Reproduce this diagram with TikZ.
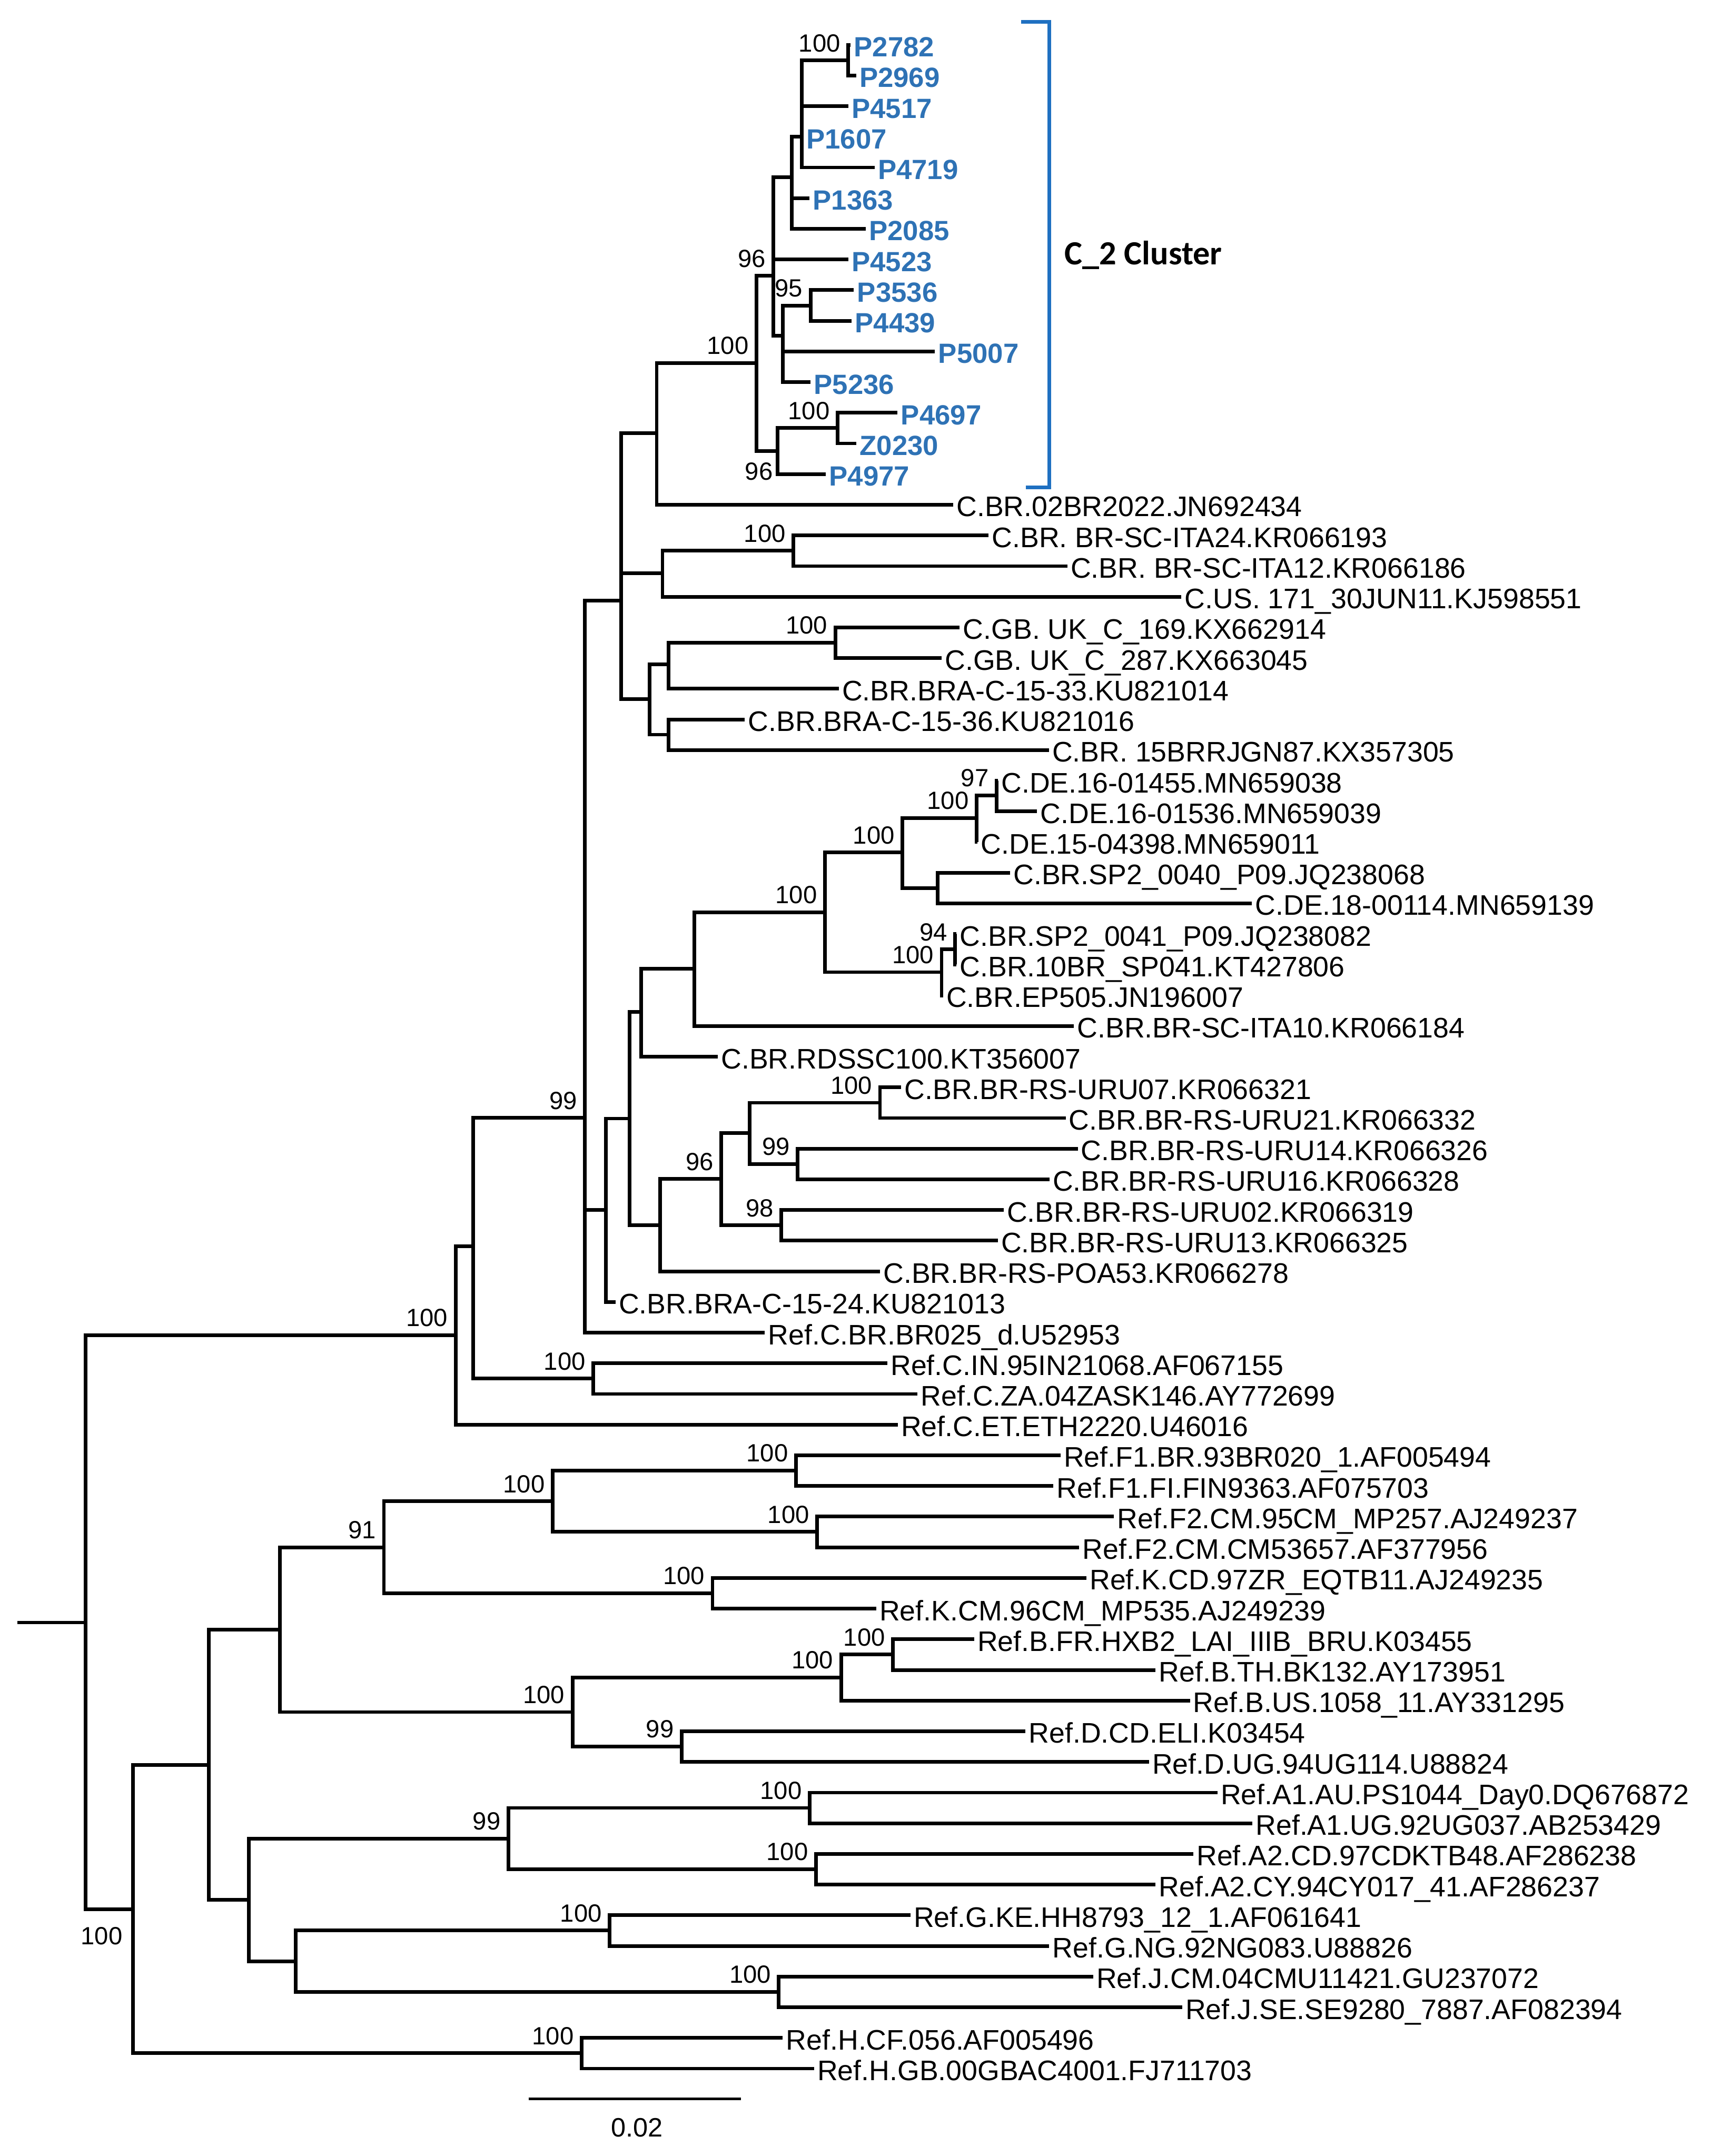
\documentclass[tikz,border=0pt]{standalone}
\usepackage{fontspec}
\setmainfont{Liberation Sans}
\newfontfamily\clusterfont{Carlito}
\definecolor{cluster_blue}{HTML}{2E72B5}
\definecolor{bracket_blue}{HTML}{1F70C1}

\begin{document}
\begin{tikzpicture}[x=0.02cm, y=-0.02cm,
  branch/.style={line width=1.5pt},
  leaf/.style={anchor=west, inner sep=1.2pt, text height=9.8pt, text depth=0pt, font=\fontsize{11.7}{14}\selectfont},
  pleaf/.style={leaf, text=cluster_blue, font=\fontsize{11.5}{14}\selectfont\bfseries},
  bsfont/.style={anchor=east, inner sep=0pt, font=\fontsize{10.3}{12}\selectfont},
  bs/.style={bsfont, xshift=-0.108cm, yshift=0.252cm}]
  \useasboundingbox (0,0) rectangle (1244,1568);

  % Internal nodes (C_2 cluster)
  \coordinate (nA) at (616.9,44);
  \coordinate (nB) at (583,99.5);
  \coordinate (nC) at (575.9,129);
  \coordinate (nD) at (562.5,200.6);
  \coordinate (nF) at (589.5,222.2);
  \coordinate (nE) at (569.3,244.3);
  \coordinate (nG) at (609.1,311.3);
  \coordinate (nH) at (565.5,328);
  \coordinate (nI) at (550.1,264);
  \coordinate (nJ) at (477.6,315);

  % Internal nodes (subtype C)
  \coordinate (nK) at (577.1,400.5);
  \coordinate (nL) at (481.8,417);
  \coordinate (nM) at (607.5,467.4);
  \coordinate (nN) at (486.1,483);
  \coordinate (nO) at (486.1,534.3);
  \coordinate (nP) at (472.4,508.5);
  \coordinate (nQ) at (451.6,436.8);
  \coordinate (nR) at (724.8,578.5);
  \coordinate (nS) at (710.2,595);
  \coordinate (nT) at (681.8,645.8);
  \coordinate (nU) at (656.3,620);
  \coordinate (nV) at (694.6,690.5);
  \coordinate (nW) at (684.8,707);
  \coordinate (nX) at (599.9,663.5);
  \coordinate (nY) at (504.9,704.5);
  \coordinate (nZ) at (466.4,736);
  \coordinate (nAA) at (640,802);
  \coordinate (nAB) at (580.2,846.5);
  \coordinate (nAC) at (545.1,824);
  \coordinate (nAD) at (568.2,891.2);
  \coordinate (nAE) at (524.6,857.5);
  \coordinate (nAF) at (480.1,891);
  \coordinate (nAG) at (457.8,813.5);
  \coordinate (nAH) at (440.8,880);
  \coordinate (nAI) at (425.4,813);
  \coordinate (nAJ) at (431.5,1002.6);
  \coordinate (nAK) at (344,906.5);
  \coordinate (nAL) at (331.4,971);

  % Internal nodes (reference subtypes)
  \coordinate (nBA) at (578.9,1069.5);
  \coordinate (nBB) at (594.3,1114.1);
  \coordinate (nBC) at (401.9,1091.8);
  \coordinate (nBD) at (518.2,1158.7);
  \coordinate (nBE) at (279.2,1125.3);
  \coordinate (nBF) at (649.5,1203.3);
  \coordinate (nBG) at (611.7,1220);
  \coordinate (nBH) at (495.8,1270.2);
  \coordinate (nBI) at (416.4,1245.1);
  \coordinate (nBJ) at (203.6,1185.2);
  \coordinate (nBK) at (588.8,1314.8);
  \coordinate (nBL) at (593.4,1359.4);
  \coordinate (nBM) at (369.8,1337.1);
  \coordinate (nBN) at (443.4,1404);
  \coordinate (nBO) at (566.4,1448.6);
  \coordinate (nBP) at (215.2,1426.3);
  \coordinate (nBQ) at (180.8,1381.7);
  \coordinate (nBR) at (151.7,1283.5);
  \coordinate (nBS) at (423,1493.2);
  \coordinate (nBT) at (96.8,1388.4);
  \coordinate (root) at (62.4,1180);
  \coordinate (stub) at (12.5,1180);

  % Branches between internal nodes
  \draw[branch] (stub) -- (root);
  \foreach \p/\c in {nB/nA, nC/nB, nD/nC, nE/nF, nD/nE, nH/nG, nI/nD, nI/nH, nJ/nI,
      nL/nK, nN/nM, nP/nN, nP/nO, nQ/nJ, nQ/nL, nQ/nP, nS/nR, nU/nS, nU/nT, nW/nV,
      nX/nU, nX/nW, nY/nX, nZ/nY, nAC/nAA, nAC/nAB, nAE/nAC, nAE/nAD, nAF/nAE,
      nAG/nZ, nAG/nAF, nAH/nAG, nAI/nQ, nAI/nAH, nAK/nAI, nAK/nAJ, nAL/nAK, root/nAL,
      nBC/nBA, nBC/nBB, nBE/nBC, nBE/nBD, nBG/nBF, nBI/nBG, nBI/nBH, nBJ/nBE, nBJ/nBI,
      nBM/nBK, nBM/nBL, nBP/nBN, nBP/nBO, nBQ/nBM, nBQ/nBP, nBR/nBJ, nBR/nBQ,
      nBT/nBR, nBT/nBS, root/nBT}
    \draw[branch] (\p) |- (\c);

  % Leaves of the C_2 cluster
  \foreach \i/\p/\x/\txt in {1/nA/618.6/P2782, 2/nA/622.6/P2969, 3/nB/616.9/P4517,
      4/nB/584/P1607, 5/nB/636/P4719, 6/nC/588.8/P1363, 7/nC/629.6/P2085,
      8/nD/616.9/P4523, 9/nF/621/P3536, 10/nF/619.4/P4439, 11/nE/680/P5007,
      12/nE/589.5/P5236, 13/nG/652.8/P4697, 14/nG/622.8/Z0230, 15/nH/600.6/P4977}{
    \node[pleaf] (l\i) at (\x,{32.6+22.3*(\i-1)}) {\txt};
    \draw[branch] (\p) |- (l\i.west);
  }

  % Other leaves
  \foreach \i/\p/\x/\txt in {16/nJ/693.2/C.BR.02BR2022.JN692434,
      17/nK/719/C.BR. BR-SC-ITA24.KR066193,
      18/nK/776.2/C.BR. BR-SC-ITA12.KR066186,
      19/nL/859.2/C.US. 171\_30JUN11.KJ598551,
      20/nM/698/C.GB. UK\_C\_169.KX662914,
      21/nM/684.8/C.GB. UK\_C\_287.KX663045,
      22/nN/610/C.BR.BRA-C-15-33.KU821014,
      23/nO/541.7/C.BR.BRA-C-15-36.KU821016,
      24/nO/762.8/C.BR. 15BRRJGN87.KX357305,
      25/nR/725.8/C.DE.16-01455.MN659038,
      26/nR/754.2/C.DE.16-01536.MN659039,
      27/nS/711/C.DE.15-04398.MN659011,
      28/nT/734.6/C.BR.SP2\_0040\_P09.JQ238068,
      29/nT/910.5/C.DE.18-00114.MN659139,
      30/nV/695.6/C.BR.SP2\_0041\_P09.JQ238082,
      31/nV/695.6/C.BR.10BR\_SP041.KT427806,
      32/nW/685.8/C.BR.EP505.JN196007,
      33/nY/781/C.BR.BR-SC-ITA10.KR066184,
      34/nZ/522/C.BR.RDSSC100.KT356007,
      35/nAA/655.4/C.BR.BR-RS-URU07.KR066321,
      36/nAA/775/C.BR.BR-RS-URU21.KR066332,
      37/nAB/783.8/C.BR.BR-RS-URU14.KR066326,
      38/nAB/763.2/C.BR.BR-RS-URU16.KR066328,
      39/nAD/729.9/C.BR.BR-RS-URU02.KR066319,
      40/nAD/725.7/C.BR.BR-RS-URU13.KR066325,
      41/nAF/640/C.BR.BR-RS-POA53.KR066278,
      42/nAH/447.6/C.BR.BRA-C-15-24.KU821013,
      43/nAI/556.2/Ref.C.BR.BR025\_d.U52953,
      44/nAJ/645.3/Ref.C.IN.95IN21068.AF067155,
      45/nAJ/667.3/Ref.C.ZA.04ZASK146.AY772699,
      46/nAL/652.9/Ref.C.ET.ETH2220.U46016,
      47/nBA/771.2/Ref.F1.BR.93BR020\_1.AF005494,
      48/nBA/766/Ref.F1.FI.FIN9363.AF075703,
      49/nBB/810.2/Ref.F2.CM.95CM\_MP257.AJ249237,
      50/nBB/784.9/Ref.F2.CM.CM53657.AF377956,
      51/nBD/790.1/Ref.K.CD.97ZR\_EQTB11.AJ249235,
      52/nBD/637.2/Ref.K.CM.96CM\_MP535.AJ249239,
      53/nBF/708.4/Ref.B.FR.HXB2\_LAI\_IIIB\_BRU.K03455,
      54/nBF/840.4/Ref.B.TH.BK132.AY173951,
      55/nBG/865.4/Ref.B.US.1058\_11.AY331295,
      56/nBH/745.8/Ref.D.CD.ELI.K03454,
      57/nBH/835.6/Ref.D.UG.94UG114.U88824,
      58/nBK/885.4/Ref.A1.AU.PS1044\_Day0.DQ676872,
      59/nBK/910.8/Ref.A1.UG.92UG037.AB253429,
      60/nBL/867.8/Ref.A2.CD.97CDKTB48.AF286238,
      61/nBL/840.4/Ref.A2.CY.94CY017\_41.AF286237,
      62/nBN/662.1/Ref.G.KE.HH8793\_12\_1.AF061641,
      63/nBN/763.1/Ref.G.NG.92NG083.U88826,
      64/nBO/795/Ref.J.CM.04CMU11421.GU237072,
      65/nBO/859.7/Ref.J.SE.SE9280\_7887.AF082394,
      66/nBS/569.3/Ref.H.CF.056.AF005496,
      67/nBS/592/Ref.H.GB.00GBAC4001.FJ711703}{
    \node[leaf] (l\i) at (\x,{32.6+22.3*(\i-1)}) {\txt};
    \draw[branch] (\p) |- (l\i.west);
  }

  % Bootstrap values
  \foreach \n/\v in {nA/100, nD/96, nF/95, nG/100, nI/100, nK/100, nM/100, nR/97,
      nS/100, nU/100, nV/94, nW/100, nX/100, nAA/100, nAB/99, nAD/98, nAE/96,
      nAI/99, nAJ/100, nAL/100, nBA/100, nBB/100, nBC/100, nBD/100, nBE/91,
      nBF/100, nBG/100, nBH/99, nBI/100, nBK/100, nBL/100, nBM/99, nBN/100,
      nBO/100, nBS/100}
    \node[bs] (bs\n) at (\n) {\v};
  \node[bsfont] (bsnH) at (562.4,343) {96};
  \node[bsfont] (bsnBT) at (89.4,1408) {100};

  % C_2 cluster bracket
  \draw[bracket_blue, line width=1.5pt] (742.5,15.9) -- (763,15.9) -- (763,354.3) -- (746.2,354.3);
  \node[anchor=west, inner sep=0pt, font=\clusterfont\fontsize{14}{16}\selectfont\bfseries] (clusterlabel) at (774,185.7) {C\_2 Cluster};

  % Scale bar
  \coordinate (sbL) at (384.4,1526.5);
  \coordinate (sbR) at (539,1526.5);
  \draw[line width=1.1pt] (sbL) -- (sbR);
  \node[font=\fontsize{11}{13}\selectfont, inner sep=0pt] (sbtext) at (463.4,1547.5) {0.02};
\end{tikzpicture}
\end{document}
